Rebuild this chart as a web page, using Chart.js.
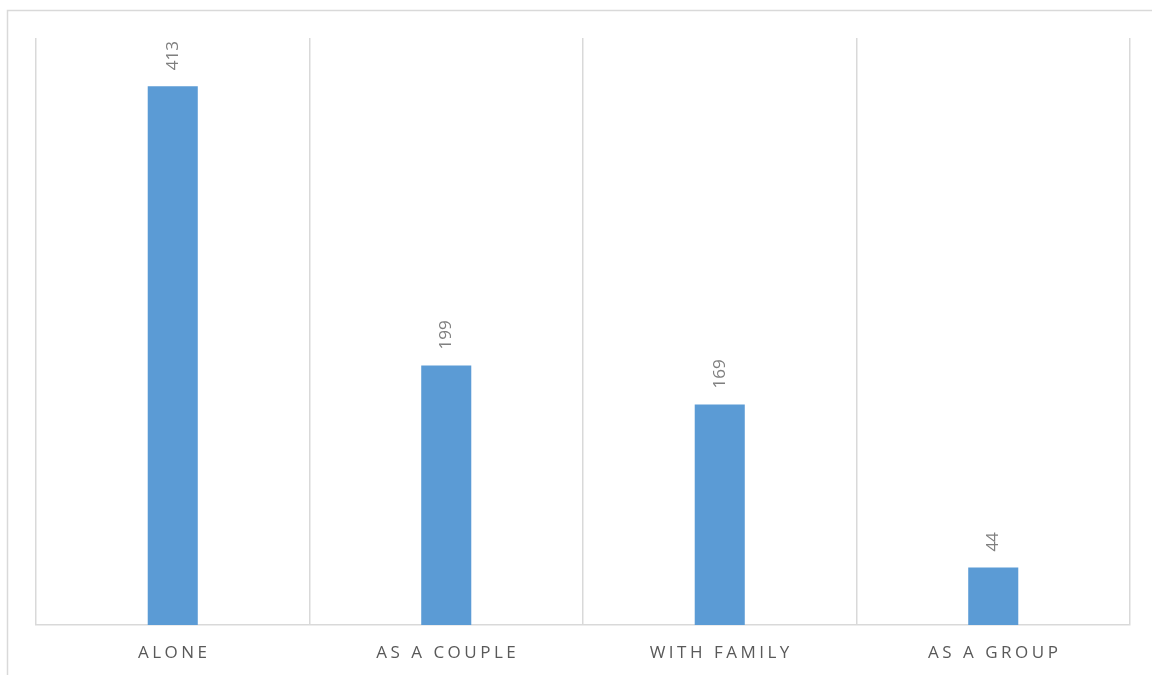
<!DOCTYPE html>
<html>
<head>
<meta charset="utf-8">
<script src="https://cdn.jsdelivr.net/npm/chart.js@4.4.1/dist/chart.umd.min.js"></script>
<style>
  html, body { margin: 0; padding: 0; background: #fff; }
  #wrap { width: 1152px; height: 675px; position: relative; }
</style>
</head>
<body>
<div id="wrap"><canvas id="cBar" width="1152" height="675"></canvas></div>
<script>
/* travel companion bar chart */

var categories = ["ALONE", "AS A COUPLE", "WITH FAMILY", "AS A GROUP"];
var counts = [413, 199, 169, 44];
var yMax = 450;

var FONT = "Open Sans";

var frame = {
  id: "frame",
  beforeDraw: function(ch) {
    var c = ch.ctx;
    c.save();
    c.fillStyle = "#ffffff";
    c.fillRect(0, 0, ch.width, ch.height);
    c.strokeStyle = "#d9d9d9";
    c.lineWidth = 1.5;
    c.strokeRect(7.5, 10.5, ch.width + 20, ch.height + 20);
    c.restore();
  }
};

var labels = {
  id: "labels",
  afterDraw: function(ch) {
    var c = ch.ctx;
    var xs = ch.scales.x;
    var meta = ch.getDatasetMeta(0);
    c.save();
    // value labels, rotated
    c.fillStyle = "#7f7f7f";
    c.font = "17px " + FONT;
    c.textAlign = "left";
    c.textBaseline = "middle";
    meta.data.forEach(function(bar, i) {
      c.save();
      c.translate(bar.x, bar.y - 16);
      c.rotate(-Math.PI / 2);
      c.fillText(String(counts[i]), 0, 0);
      c.restore();
    });
    // category labels with letter spacing
    c.fillStyle = "#595959";
    c.font = "17px " + FONT;
    c.textAlign = "center";
    c.textBaseline = "middle";
    c.letterSpacing = "3.5px";
    categories.forEach(function(cat, i) {
      c.fillText(cat, xs.getPixelForValue(i) + 1.5, 653);
    });
    c.restore();
  }
};

new Chart(document.getElementById("cBar"), {
  type: "bar",
  data: {
    labels: categories,
    datasets: [{
      data: counts,
      backgroundColor: "#5b9bd5",
      borderWidth: 0,
      categoryPercentage: 1,
      barPercentage: 0.183
    }]
  },
  options: {
    responsive: false,
    animation: false,
    layout: { padding: { left: 36, right: 22, top: 38, bottom: 50 } },
    scales: {
      x: {
        offset: true,
        grid: { offset: true, color: "#d9d9d9", lineWidth: 1.5, drawTicks: false },
        border: { color: "#d9d9d9", width: 1.5 },
        ticks: { display: false }
      },
      y: {
        display: false,
        min: 0,
        max: yMax
      }
    },
    plugins: {
      legend: { display: false },
      tooltip: { enabled: false }
    }
  },
  plugins: [frame, labels]
});
</script>
</body>
</html>
